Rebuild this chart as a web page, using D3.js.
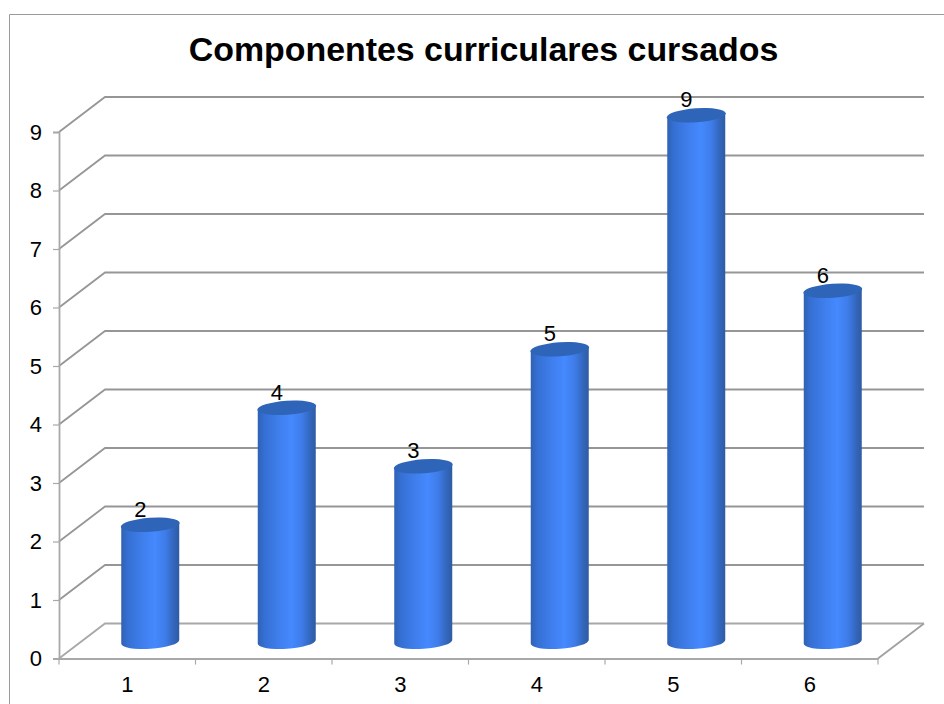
<!DOCTYPE html>
<html>
<head>
<meta charset="utf-8">
<script src="https://cdn.jsdelivr.net/npm/d3@7"></script>
<style>
    html, body { margin: 0; padding: 0; background: #fff; }
    svg { display: block; }
    text { font-family: "Liberation Sans", Arial, sans-serif; fill: #000; }
</style>
</head>
<body>
<div id="chart"></div>
<script>
    const titleText = "Componentes curriculares cursados";
    const categories = ["1", "2", "3", "4", "5", "6"];
    const values = [2, 4, 3, 5, 9, 6];
    const yTicks = [0, 1, 2, 3, 4, 5, 6, 7, 8, 9];

    // Dimensions
    const width = 944, height = 704;
    const plot = { left: 59, right: 878, top: 132, bottom: 658.5 };
    const depth = { x: 46, y: -35 }; // offset of the back wall from the front plane

    const svg = d3.select("#chart").append("svg")
        .attr("width", width)
        .attr("height", height);

    // Scales
    const x = d3.scaleBand().domain(categories).range([plot.left, plot.right]);
    const y = d3.scaleLinear().domain([0, 9]).range([plot.bottom, plot.top]);

    // Outer frame, only top and left are visible
    svg.append("path")
        .attr("d", `M9.5,${height} V14.5 H${width}`)
        .attr("fill", "none")
        .attr("stroke", "#9a9a9a")
        .attr("stroke-width", 1);

    // Title
    svg.append("text")
        .attr("x", 483.5)
        .attr("y", 61)
        .attr("text-anchor", "middle")
        .style("font-size", "33.9px")
        .style("font-weight", "bold")
        .text(titleText);

    // Gridlines: side wall diagonal + back wall horizontal
    svg.append("g").selectAll("path")
        .data(yTicks)
        .enter().append("path")
        .attr("d", d => `M${plot.left},${y(d)} L${plot.left + depth.x},${y(d) + depth.y} H${plot.right + depth.x}`)
        .attr("fill", "none")
        .attr("stroke", d => d === 0 ? "#a8a8a8" : "#969696")
        .attr("stroke-width", 1.8);

    // Floor edge on the right side
    svg.append("line")
        .attr("x1", plot.right).attr("y1", plot.bottom)
        .attr("x2", plot.right + depth.x).attr("y2", plot.bottom + depth.y)
        .attr("stroke", "#a0a0a0")
        .attr("stroke-width", 1.8);

    // Axes
    const yAxis = svg.append("g")
        .attr("transform", `translate(${plot.left},0)`)
        .call(d3.axisLeft(y).tickValues(yTicks).tickFormat(d3.format("d")).tickSize(6).tickPadding(11));

    const xAxis = svg.append("g")
        .attr("transform", `translate(0,${plot.bottom})`)
        .call(d3.axisBottom(x).tickSize(0).tickPadding(18));

    [yAxis, xAxis].forEach(axis => {
        axis.select(".domain").attr("stroke", "#a8a8a8").attr("stroke-width", 1.8);
        axis.selectAll(".tick line").attr("stroke", "#a8a8a8").attr("stroke-width", 1.2);
        axis.selectAll("text").style("font-size", "22px").style("font-family", "'Liberation Sans', Arial, sans-serif").attr("fill", "#000");
    });

    // Category separators on the front floor edge
    svg.append("g").selectAll("line")
        .data(categories.map(c => x(c)).concat(plot.right))
        .enter().append("line")
        .attr("x1", d => d).attr("x2", d => d)
        .attr("y1", plot.bottom).attr("y2", plot.bottom + 6)
        .attr("stroke", "#a8a8a8")
        .attr("stroke-width", 1.2);

    // Cylinder shading
    const grad = svg.append("defs").append("linearGradient")
        .attr("id", "cyl")
        .attr("x1", "0%").attr("x2", "100%").attr("y1", "0%").attr("y2", "0%");
    [[0, "#2f62b4"], [0.12, "#3570d4"], [0.4, "#4080f0"], [0.58, "#4589ff"], [0.76, "#3e7ce8"], [0.92, "#3264b8"], [1, "#2f5ba3"]]
        .forEach(s => grad.append("stop").attr("offset", s[0]).attr("stop-color", s[1]));

    // Bars
    const barW = 58, rx = barW / 2, ry = 7, tilt = -4, lean = 2;
    const barX = c => x(c) + x.bandwidth() / 2 + depth.x / 2;
    const barY = v => y(v) + depth.y / 2 + 0.8;

    const bars = svg.append("g").selectAll("g")
        .data(categories.map((c, i) => ({ c, v: values[i] })))
        .enter().append("g");

    bars.append("path")
        .attr("d", d => {
            const l = barX(d.c) - rx, r = barX(d.c) + rx;
            const top = barY(d.v), bot = barY(0);
            return `M${l},${top + lean} V${bot + lean} A${rx},${ry} ${tilt} 0 0 ${r},${bot - lean} V${top - lean} Z`;
        })
        .attr("fill", "url(#cyl)");

    bars.append("ellipse")
        .attr("rx", rx + 0.5)
        .attr("ry", ry)
        .attr("transform", d => `translate(${barX(d.c)},${barY(d.v)}) rotate(${tilt})`)
        .attr("fill", "#2e65b8");

    // Value labels
    bars.append("text")
        .attr("x", d => barX(d.c) - 10)
        .attr("y", d => barY(d.v) - 8)
        .attr("text-anchor", "middle")
        .style("font-size", "22px")
        .text(d => d.v);
</script>
</body>
</html>
